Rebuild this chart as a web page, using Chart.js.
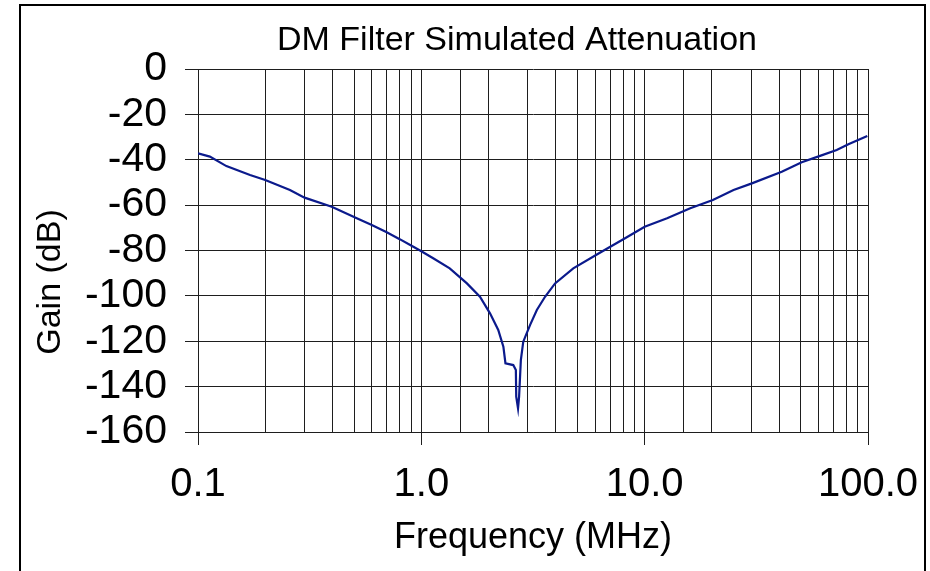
<!DOCTYPE html>
<html>
<head>
<meta charset="utf-8">
<script src="https://cdn.jsdelivr.net/npm/chart.js@4"></script>
<style>
  body { margin: 0; background: #fff; }
</style>
</head>
<body>
<canvas id="myChart" width="930" height="571"></canvas>
<script>
// values
var freqMHz = [0.1, 0.113, 0.134, 0.171, 0.2, 0.258, 0.3, 0.397, 0.514, 0.6, 0.7, 0.8, 0.9,
  1.0, 1.13, 1.34, 1.6, 1.83, 2.03, 2.21, 2.33, 2.38, 2.58, 2.65, 2.66, 2.71, 2.74, 2.79,
  2.86, 3.07, 3.29, 3.58, 3.97, 4.79, 6.3, 8.17, 10, 12.6, 16, 20.2, 25, 30.2, 41.1, 50.5,
  61, 72.4, 81.7, 99.3];
var gainDb = [-37.2, -38.6, -42.8, -46.7, -48.9, -53.3, -56.7, -60.7, -65.8, -68.8, -72, -75, -77.8,
  -80.3, -83.4, -87.9, -94.5, -100.4, -107.7, -115, -122.4, -129.7, -130.5, -132.7, -144.4, -149.6, -144.4, -128.3,
  -120.2, -112.8, -106.2, -100.4, -94.5, -87.9, -81, -74.6, -69.5, -65.8, -61.4, -57.7, -53.3, -50.4, -45.3, -41.1,
  -38.3, -35.7, -33.2, -29.5];
var decadeLabels = {0.1: '0.1', 1: '1.0', 10: '10.0', 100: '100.0'};

var points = freqMHz.map(function (f, i) { return {x: f, y: gainDb[i]}; });

var fontFam = "'Liberation Sans', Arial, sans-serif";
var gridCol = '#1e1e1e';

function isDecade(v) {
  return decadeLabels[+v.toPrecision(3)] !== undefined;
}

// frame, title and the y axis title
var decor = {
  id: 'decor',
  afterDraw: function (chart) {
    var c = chart.ctx;
    c.save();
    c.strokeStyle = '#000';
    c.lineWidth = 2;
    c.strokeRect(20, 5, 905, 620);
    c.fillStyle = '#000';
    c.font = '34px ' + fontFam;
    c.textAlign = 'center';
    c.textBaseline = 'alphabetic';
    c.fillText('DM Filter Simulated Attenuation', 517, 50);
    c.translate(60, 282);
    c.rotate(-Math.PI / 2);
    c.font = '34px ' + fontFam;
    c.fillText('Gain (dB)', 0, 0);
    c.restore();
  }
};

var ctx = document.getElementById('myChart').getContext('2d');
var myChart = new Chart(ctx, {
  type: 'scatter',
  data: {
    datasets: [{
      data: points,
      showLine: true,
      borderColor: '#0b1a8c',
      borderWidth: 2.2,
      pointRadius: 0,
      tension: 0
    }]
  },
  options: {
    responsive: false,
    animation: false,
    layout: { padding: { left: 20, right: 62, top: 69, bottom: 0 } },
    plugins: {
      legend: { display: false },
      tooltip: { enabled: false }
    },
    scales: {
      x: {
        type: 'logarithmic',
        min: 0.1,
        max: 100,
        afterFit: function (s) { s.height = 139; s.paddingLeft = 0; s.paddingRight = 0; },
        grid: {
          color: gridCol,
          lineWidth: 1,
          tickLength: 13,
          tickColor: function (c) { return c.tick && isDecade(c.tick.value) ? gridCol : 'rgba(0,0,0,0)'; }
        },
        border: { color: gridCol },
        ticks: {
          autoSkip: false,
          maxRotation: 0,
          padding: 16,
          color: '#000',
          font: { family: fontFam, size: 40 },
          callback: function (v) {
            var k = +(+v).toPrecision(3);
            return decadeLabels[k] !== undefined ? decadeLabels[k] : '';
          }
        },
        title: {
          display: true,
          text: 'Frequency (MHz)',
          color: '#000',
          font: { family: fontFam, size: 36 },
          padding: { top: 0, bottom: 11 }
        }
      },
      y: {
        min: -160,
        max: 0,
        afterFit: function (s) { s.width = 178; },
        grid: { color: gridCol, lineWidth: 1, tickLength: 13, tickColor: gridCol },
        border: { color: gridCol },
        ticks: {
          stepSize: 20,
          autoSkip: false,
          padding: 18,
          color: '#000',
          font: { family: fontFam, size: 41 }
        }
      }
    }
  },
  plugins: [decor]
});
</script>
</body>
</html>
